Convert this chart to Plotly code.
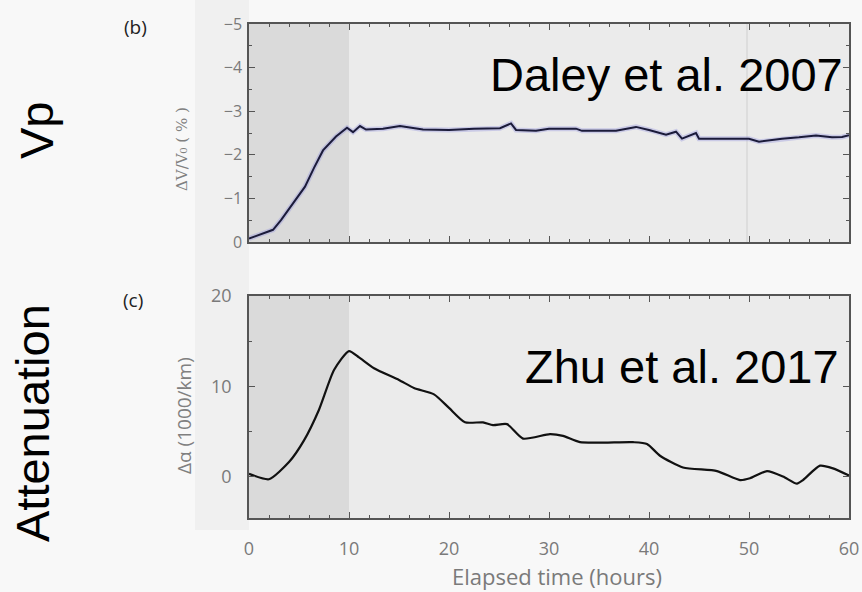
import plotly.graph_objects as go

# ---- data ----
vp_t = [0, 1, 2.4, 3.2, 4.1, 5.0, 5.6, 6.5, 7.4, 8.7, 9.8, 10.4, 11.1, 11.7, 13.4, 15.1,
        17.4, 20, 22.5, 25.1, 26.2, 26.7, 28.7, 30, 32.7, 33.3, 36.7, 38.7, 40, 41.7,
        42.7, 43.3, 44.7, 45, 48, 50, 51, 53.3, 55, 56.7, 58.3, 59.3, 60]
vp_dv = [-0.08, -0.17, -0.28, -0.5, -0.8, -1.1, -1.27, -1.7, -2.1, -2.42, -2.62, -2.52,
         -2.66, -2.58, -2.6, -2.66, -2.58, -2.57, -2.6, -2.61, -2.72, -2.57, -2.55, -2.6,
         -2.6, -2.55, -2.55, -2.64, -2.57, -2.46, -2.53, -2.37, -2.5, -2.37, -2.37, -2.37,
         -2.3, -2.37, -2.4, -2.44, -2.4, -2.41, -2.45]

att_t = [0, 2, 4, 5.5, 7, 8.5, 10, 11, 12.5, 15, 16.5, 18.5, 20, 21.6, 23.4, 24.4, 25.8,
         27.4, 30.1, 31.4, 33.1, 38.4, 39.8, 41.1, 43.4, 46.8, 49.1, 50.1, 51.8, 53.4,
         54.8, 55.4, 57.1, 58.4, 60]
att_v = [0.3, -0.3, 1.6, 4.0, 7.4, 11.8, 13.9, 13.2, 12.0, 10.7, 9.8, 9.1, 7.6, 6.0, 6.0,
         5.7, 5.8, 4.2, 4.7, 4.5, 3.8, 3.8, 3.6, 2.3, 1.0, 0.6, -0.4, -0.2, 0.6, 0.0,
         -0.8, -0.4, 1.2, 0.9, 0.1]

vp_ticks = [-5, -4, -3, -2, -1, 0]
att_ticks = [0, 10, 20]
x_ticks = [0, 10, 20, 30, 40, 50, 60]

W, H = 862, 592
def px(x):
    return x / W
def py(y):
    return 1 - y / H

x_dom = [px(249), px(849)]
top_dom = [py(242), py(24)]
bot_dom = [py(518), py(296)]

fig = go.Figure()
fig.add_trace(go.Scatter(x=vp_t, y=vp_dv, mode="lines", xaxis="x", yaxis="y",
                         line=dict(color="rgba(140,140,220,0.35)", width=5),
                         hoverinfo="skip", showlegend=False))
fig.add_trace(go.Scatter(x=vp_t, y=vp_dv, mode="lines", xaxis="x", yaxis="y",
                         line=dict(color="#1b1b3a", width=2), showlegend=False))
fig.add_trace(go.Scatter(x=att_t, y=att_v, mode="lines", xaxis="x2", yaxis="y2",
                         line=dict(color="#111111", width=2.2, shape="spline", smoothing=0.6),
                         showlegend=False))

tickfont = dict(family="Open Sans", size=18, color="#7a7a7a")
axcommon = dict(showline=True, linecolor="#555555", linewidth=1.5, mirror="ticks",
                ticks="inside", ticklen=6, tickcolor="#555555", showgrid=False,
                zeroline=False, tickfont=tickfont)

fig.update_layout(
    width=W, height=H, margin=dict(l=0, r=0, t=0, b=0, autoexpand=False),
    paper_bgcolor="#f8f8f8", plot_bgcolor="#ebebeb",
    xaxis=dict(domain=x_dom, anchor="y", range=[0, 60], tickvals=x_ticks,
               showticklabels=False, minor=dict(dtick=2, ticks="inside", ticklen=3,
                                                tickcolor="#555555"), **axcommon),
    yaxis=dict(domain=top_dom, anchor="x", range=[0, -5], tickvals=vp_ticks,
               ticktext=["\u2212" + str(abs(v)) if v else "0" for v in vp_ticks],
               ticklabelstandoff=2,
               minor=dict(dtick=0.5, ticks="inside", ticklen=3, tickcolor="#555555"),
               **{**axcommon, "tickfont": dict(family="Open Sans", size=16, color="#7a7a7a")}),
    xaxis2=dict(domain=x_dom, anchor="y2", range=[0, 60], tickvals=x_ticks,
                ticklabelstandoff=14,
                minor=dict(dtick=2, ticks="inside", ticklen=3, tickcolor="#555555"),
                **axcommon),
    yaxis2=dict(domain=bot_dom, anchor="x2", range=[-4.6, 20], tickvals=att_ticks,
                ticklabelstandoff=12,
                minor=dict(dtick=5, ticks="inside", ticklen=3, tickcolor="#555555"),
                **axcommon),
)

shapes = [
    dict(type="rect", xref="paper", yref="paper", x0=px(195), x1=px(249), y0=py(530), y1=1,
         fillcolor="#f0f0f0", line=dict(width=0), layer="below"),
    dict(type="rect", xref="x", yref="y domain", x0=0, x1=10, y0=0, y1=1,
         fillcolor="#dadada", line=dict(width=0), layer="below"),
    dict(type="rect", xref="x2", yref="y2 domain", x0=0, x1=10, y0=0, y1=1,
         fillcolor="#dadada", line=dict(width=0), layer="below"),
    dict(type="line", xref="x", yref="y domain", x0=49.8, x1=49.8, y0=0, y1=1,
         line=dict(color="#cfcfcf", width=1), layer="below"),
]
fig.update_layout(shapes=shapes)

big = dict(family="Liberation Sans, Arial", size=47, color="#000000")
ann = [
    dict(text="Vp", x=px(36), y=py(130), textangle=-90, font=big),
    dict(text="Attenuation", x=px(33), y=py(423), textangle=-90, font=big),
    dict(text="Daley et al. 2007", x=px(845), y=py(74), xanchor="right", font=big),
    dict(text="Zhu et al. 2017", x=px(841), y=py(366), xanchor="right", font=big),
    dict(text="(b)", x=px(135), y=py(27), font=dict(family="Open Sans", size=19, color="#222222")),
    dict(text="(c)", x=px(133), y=py(300), font=dict(family="Open Sans", size=19, color="#222222")),
    dict(text="\u0394V/V\u2080 ( % )", x=px(182), y=py(149), textangle=-90,
         font=dict(family="DejaVu Serif", size=15, color="#808080")),
    dict(text="\u0394\u03b1 (1000/km)", x=px(184), y=py(416), textangle=-90,
         font=dict(family="Open Sans", size=19, color="#808080")),
    dict(text="Elapsed time (hours)", x=px(557), y=py(576),
         font=dict(family="Open Sans", size=22, color="#7a7a7a")),
]
for a in ann:
    a.setdefault("xanchor", "center")
    a.update(xref="paper", yref="paper", showarrow=False, yanchor="middle")
fig.update_layout(annotations=ann)

fig.write_html("out.html")
